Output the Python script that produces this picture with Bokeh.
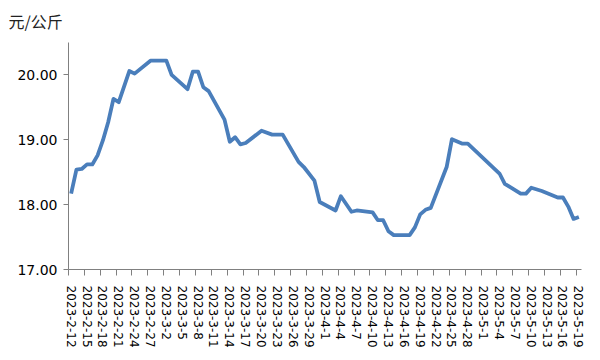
from datetime import date
from bokeh.plotting import figure
from bokeh.models import FixedTicker, NumeralTickFormatter, Range1d, ColumnDataSource
from bokeh.embed import file_html
from bokeh.resources import INLINE

# ---- data ----
dates = ["2023-2-12", "2023-2-13", "2023-2-14", "2023-2-15", "2023-2-16", "2023-2-17",
         "2023-2-18", "2023-2-19", "2023-2-20", "2023-2-21", "2023-2-23", "2023-2-24",
         "2023-2-27", "2023-3-2", "2023-3-3", "2023-3-6", "2023-3-7", "2023-3-8",
         "2023-3-9", "2023-3-10", "2023-3-13", "2023-3-14", "2023-3-15", "2023-3-16",
         "2023-3-17", "2023-3-20", "2023-3-22", "2023-3-24", "2023-3-27", "2023-3-28",
         "2023-3-30", "2023-3-31", "2023-4-3", "2023-4-4", "2023-4-6", "2023-4-7",
         "2023-4-10", "2023-4-11", "2023-4-12", "2023-4-13", "2023-4-14", "2023-4-17",
         "2023-4-18", "2023-4-19", "2023-4-20", "2023-4-21", "2023-4-24", "2023-4-25",
         "2023-4-27", "2023-4-28", "2023-5-4", "2023-5-5", "2023-5-8", "2023-5-9",
         "2023-5-10", "2023-5-12", "2023-5-15", "2023-5-16", "2023-5-17", "2023-5-18",
         "2023-5-19"]
prices = [18.17, 18.54, 18.55, 18.62, 18.62, 18.76,
          18.99, 19.27, 19.63, 19.58, 20.06, 20.02,
          20.22, 20.22, 20.00, 19.78, 20.05, 20.05,
          19.81, 19.75, 19.31, 18.97, 19.04, 18.93,
          18.95, 19.14, 19.08, 19.08, 18.66, 18.58,
          18.37, 18.04, 17.91, 18.13, 17.89, 17.91,
          17.88, 17.76, 17.76, 17.59, 17.53, 17.53,
          17.65, 17.85, 17.92, 17.95, 18.58, 19.01,
          18.94, 18.94, 18.48, 18.32, 18.17, 18.17,
          18.26, 18.21, 18.11, 18.11, 17.97, 17.78,
          17.81]
tick_labels = ["2023-2-12", "2023-2-15", "2023-2-18", "2023-2-21", "2023-2-24", "2023-2-27",
               "2023-3-2", "2023-3-5", "2023-3-8", "2023-3-11", "2023-3-14", "2023-3-17",
               "2023-3-20", "2023-3-23", "2023-3-26", "2023-3-29", "2023-4-1", "2023-4-4",
               "2023-4-7", "2023-4-10", "2023-4-13", "2023-4-16", "2023-4-19", "2023-4-22",
               "2023-4-25", "2023-4-28", "2023-5-1", "2023-5-4", "2023-5-7", "2023-5-10",
               "2023-5-13", "2023-5-16", "2023-5-19"]
y_ticks = [17, 18, 19, 20]
unit = "元/公斤"

START = date(2023, 2, 12)


def day_index(s):
    yy, mm, dd = map(int, s.split("-"))
    return (date(yy, mm, dd) - START).days


x = [day_index(s) + 0.5 for s in dates]
n_days = day_index(tick_labels[-1]) + 1
label_pos = [day_index(s) + 0.5 for s in tick_labels]
bound_pos = [day_index(s) for s in tick_labels]

src = ColumnDataSource(data=dict(x=x, y=prices))

p = figure(frame_width=513, frame_height=227,
           min_border_left=68, min_border_right=18, min_border_top=42, min_border_bottom=72,
           output_backend="svg", toolbar_location=None,
           x_range=Range1d(0, n_days), y_range=Range1d(17, 20.5))
p.outline_line_color = None
p.grid.visible = False
p.background_fill_color = "white"

p.line("x", "y", source=src, line_color="#4a7ebb", line_width=3.8, line_join="round")

p.title.text = unit
p.title.text_font = "Noto Sans CJK SC"
p.title.text_font_size = "16px"
p.title.text_font_style = "normal"
p.title.text_color = "#222222"
p.title.offset = -60
p.title.vertical_align = "top"
p.title.standoff = 16

ax = p.xaxis[0]
ax.ticker = FixedTicker(ticks=label_pos, minor_ticks=bound_pos)
ax.major_label_overrides = {pos: lab for pos, lab in zip(label_pos, tick_labels)}
ax.major_label_orientation = "vertical"
ax.major_tick_line_color = None
ax.major_tick_out = 0
ax.major_tick_in = 0
ax.minor_tick_line_color = "#808080"
ax.minor_tick_out = 6
ax.minor_tick_in = 0
ax.axis_line_color = "#808080"
ax.major_label_text_font = "DejaVu Sans"
ax.major_label_text_font_size = "12px"
ax.major_label_text_color = "#000000"
ax.major_label_standoff = 10

ay = p.yaxis[0]
ay.ticker = FixedTicker(ticks=y_ticks, minor_ticks=[])
ay.formatter = NumeralTickFormatter(format="0.00")
ay.axis_line_color = "#808080"
ay.major_tick_line_color = "#808080"
ay.major_tick_out = 5
ay.major_tick_in = 0
ay.minor_tick_line_color = None
ay.major_label_text_font = "DejaVu Sans"
ay.major_label_text_font_size = "14px"
ay.major_label_text_color = "#000000"
ay.major_label_standoff = 6

open("out.html", "w").write(file_html(p, INLINE))
